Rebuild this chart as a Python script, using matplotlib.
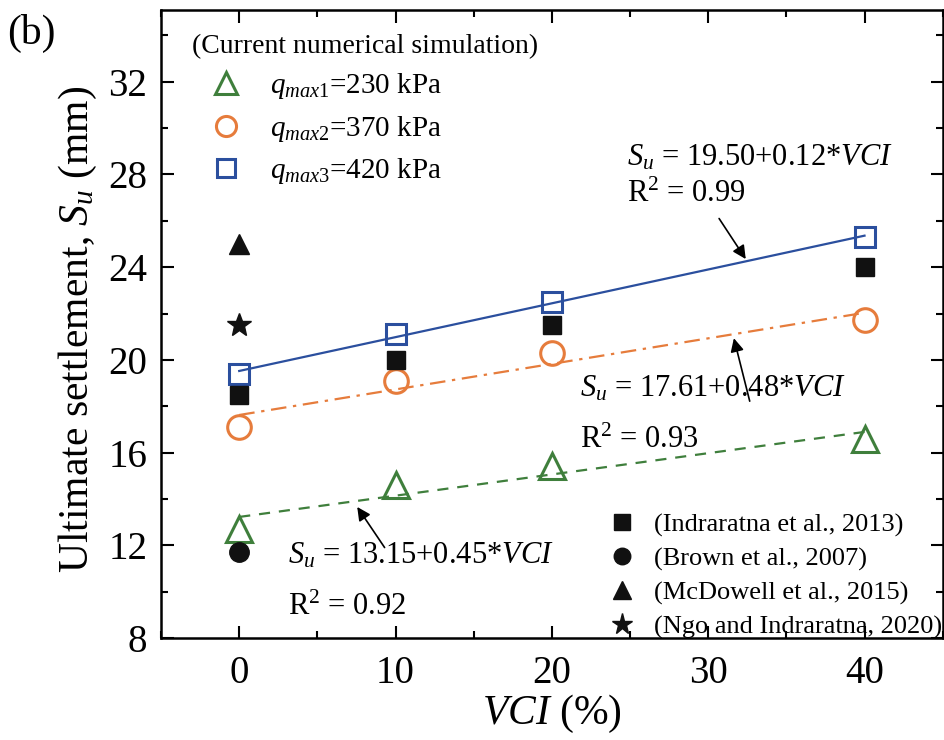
import numpy as np
import matplotlib
matplotlib.use("Agg")
from matplotlib import pyplot as plt
from matplotlib.ticker import MultipleLocator

plt.rcParams['font.family'] = 'Liberation Serif'
plt.rcParams['mathtext.fontset'] = 'custom'
plt.rcParams['mathtext.rm'] = 'Liberation Serif'
plt.rcParams['mathtext.it'] = 'Liberation Serif:italic'

# current numerical simulation
vci = [0, 10, 20, 40]
su_q1 = [12.7, 14.6, 15.4, 16.6]
su_q2 = [17.1, 19.1, 20.3, 21.7]
su_q3 = [19.4, 21.1, 22.5, 25.3]

# literature data
vci_indraratna = [0, 10, 20, 40]
su_indraratna = [18.5, 20.0, 21.5, 24.0]
su_brown = [11.7]
su_mcdowell = [25.0]
su_ngo = [21.5]

green = '#3f7f3c'
orange = '#e67c3c'
blue = '#2b4f9e'


def main():
    fig = plt.figure(figsize=(9.44, 7.4), dpi=100)
    ax = fig.add_axes([0.1706, 0.138, 0.828, 0.8485])

    xs = np.array([0, 40])
    for y, c, ls in [(su_q1, green, (0, (5, 4))),
                     (su_q2, orange, (0, (7, 3, 1.5, 3))),
                     (su_q3, blue, '-')]:
        k, b = np.polyfit(vci, y, 1)
        ax.plot(xs, b + k * xs, color=c, ls=ls, lw=1.6)

    h1, = ax.plot(vci, su_q1, '^', ms=19, mfc='none', mec=green, mew=2.2, ls='none')
    h2, = ax.plot(vci, su_q2, 'o', ms=17, mfc='none', mec=orange, mew=2.2, ls='none')
    h3, = ax.plot(vci, su_q3, 's', ms=15, mfc='none', mec=blue, mew=2.2, ls='none')

    k1, = ax.plot(vci_indraratna, su_indraratna, 's', color='#111111', ms=13, ls='none')
    k2, = ax.plot([0], su_brown, 'o', color='#111111', ms=14, ls='none')
    k3, = ax.plot([0], su_mcdowell, '^', color='#111111', ms=15, ls='none')
    k4, = ax.plot([0], su_ngo, '*', color='#111111', ms=18, ls='none')

    leg1 = ax.legend([h1, h2, h3],
                     ['$q_{max1}$=230 kPa', '$q_{max2}$=370 kPa', '$q_{max3}$=420 kPa'],
                     title='(Current numerical simulation)', loc='upper left',
                     frameon=False, fontsize=21, title_fontsize=20,
                     bbox_to_anchor=(0.025, 0.98), handletextpad=0.35,
                     labelspacing=0.42, alignment='left', borderaxespad=0,
                     markerscale=0.85, handlelength=2.3)
    ax.add_artist(leg1)
    ax.legend([k1, k2, k3, k4],
              ['(Indraratna et al., 2013)', '(Brown et al., 2007)',
               '(McDowell et al., 2015)', '(Ngo and Indraratna, 2020)'],
              loc='lower right', frameon=False, fontsize=19,
              handletextpad=0.45, labelspacing=0.38, borderaxespad=0,
              bbox_to_anchor=(1.013, -0.018), markerscale=0.85, handlelength=1.5)

    fs = 22
    ax.text(24.8, 28.4, '$S_u$ = 19.50+0.12*$VCI$', fontsize=fs)
    ax.text(24.8, 26.8, 'R$^2$ = 0.99', fontsize=fs)
    ax.annotate('', xy=(32.5, 24.25), xytext=(30.6, 26.2),
                arrowprops=dict(arrowstyle='-|>', color='black', lw=1.2, mutation_scale=20))

    ax.text(21.8, 18.4, '$S_u$ = 17.61+0.48*$VCI$', fontsize=fs)
    ax.text(21.8, 16.2, 'R$^2$ = 0.93', fontsize=fs)
    ax.annotate('', xy=(31.6, 21.05), xytext=(32.7, 18.1),
                arrowprops=dict(arrowstyle='-|>', color='black', lw=1.2, mutation_scale=20))

    ax.text(3.1, 11.2, '$S_u$ = 13.15+0.45*$VCI$', fontsize=fs)
    ax.text(3.1, 9.0, 'R$^2$ = 0.92', fontsize=fs)
    ax.annotate('', xy=(7.45, 13.75), xytext=(9.4, 11.8),
                arrowprops=dict(arrowstyle='-|>', color='black', lw=1.2, mutation_scale=20))

    ax.set_xlim(-5, 45)
    ax.set_ylim(8, 35.1)
    ax.xaxis.set_major_locator(MultipleLocator(10))
    ax.xaxis.set_minor_locator(MultipleLocator(5))
    ax.yaxis.set_major_locator(MultipleLocator(4))
    ax.yaxis.set_minor_locator(MultipleLocator(2))
    ax.tick_params(which='both', direction='in', top=True, right=True, width=1.5, labelsize=28)
    ax.tick_params(which='major', length=9)
    ax.tick_params(axis='x', pad=12)
    ax.tick_params(axis='y', pad=10)
    ax.tick_params(which='minor', length=5)
    for s in ax.spines.values():
        s.set_linewidth(1.8)

    ax.set_xlabel('$VCI$ (%)', fontsize=30)
    ax.set_ylabel('Ultimate settlement, $S_u$ (mm)', fontsize=30)
    ax.xaxis.set_label_coords(0.5, -0.088)
    ax.yaxis.set_label_coords(-0.079, 0.492)
    fig.text(0.008, 0.94, '(b)', fontsize=30)

    fig.savefig('out.png', dpi=100)


if __name__ == '__main__':
    main()
